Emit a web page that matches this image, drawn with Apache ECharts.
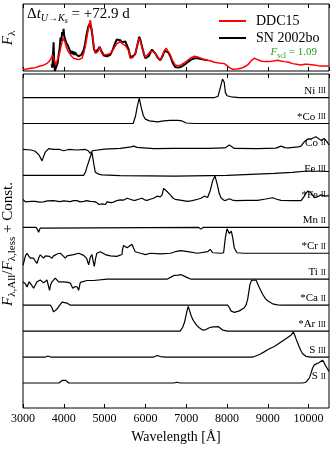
<!DOCTYPE html>
<html>
<head>
<meta charset="utf-8">
<script src="https://cdn.jsdelivr.net/npm/echarts@6/dist/echarts.min.js"></script>
<style>html,body{margin:0;padding:0;background:#fff}#chart{width:332px;height:450px}</style>
</head>
<body>
<div id="chart"></div>
<script>
// top panel: model vs observed flux, [wavelength, flux]
var ddc15 = [[3000,0.025],[3100,0.03],[3180,0.04],[3300,0.05],[3420,0.075],[3520,0.09],[3590,0.115],[3650,0.15],[3690,0.19],[3720,0.24],[3750,0.26],[3775,0.15],[3800,0.09],[3830,0.14],[3870,0.21],[3900,0.28],[3930,0.36],[3960,0.44],[3995,0.49],[4030,0.43],[4060,0.36],[4100,0.3],[4145,0.26],[4190,0.22],[4240,0.19],[4300,0.18],[4360,0.17],[4400,0.18],[4445,0.19],[4490,0.27],[4525,0.36],[4570,0.52],[4610,0.66],[4650,0.76],[4690,0.61],[4720,0.45],[4750,0.31],[4780,0.26],[4810,0.24],[4845,0.3],[4880,0.36],[4910,0.3],[4935,0.26],[4975,0.24],[5015,0.24],[5080,0.25],[5140,0.26],[5220,0.33],[5300,0.41],[5340,0.43],[5385,0.44],[5430,0.41],[5465,0.39],[5510,0.38],[5550,0.39],[5590,0.3],[5630,0.19],[5690,0.2],[5750,0.26],[5800,0.38],[5850,0.49],[5880,0.44],[5915,0.36],[5960,0.27],[6000,0.21],[6040,0.23],[6080,0.26],[6120,0.29],[6160,0.31],[6200,0.29],[6245,0.26],[6300,0.21],[6365,0.16],[6420,0.24],[6470,0.31],[6510,0.34],[6560,0.29],[6610,0.24],[6670,0.15],[6730,0.09],[6800,0.08],[6870,0.09],[6950,0.12],[7035,0.16],[7120,0.2],[7200,0.22],[7280,0.21],[7360,0.19],[7440,0.17],[7525,0.16],[7610,0.15],[7690,0.13],[7800,0.12],[7935,0.11],[8000,0.08],[8060,0.05],[8140,0.025],[8240,0.03],[8345,0.04],[8420,0.06],[8505,0.09],[8590,0.15],[8670,0.19],[8750,0.17],[8830,0.15],[8930,0.14],[9035,0.14],[9140,0.15],[9240,0.16],[9320,0.15],[9405,0.14],[9510,0.13],[9610,0.11],[9710,0.1],[9815,0.09],[9900,0.1],[9975,0.1],[10060,0.095],[10140,0.09],[10220,0.08],[10305,0.075],[10400,0.075],[10500,0.075]]
var sn2002bo = [[3700,0.10],[3720,0.05],[3740,0.30],[3750,0.43],[3760,0.2],[3780,0.0],[3800,0.02],[3820,0.0],[3850,0.12],[3870,0.22],[3900,0.35],[3920,0.50],[3940,0.45],[3960,0.58],[3980,0.55],[3995,0.63],[4010,0.52],[4030,0.48],[4060,0.42],[4080,0.44],[4100,0.38],[4120,0.40],[4140,0.32],[4160,0.30],[4180,0.26],[4200,0.30],[4220,0.25],[4240,0.29],[4260,0.24],[4280,0.28],[4300,0.25],[4330,0.27],[4360,0.22],[4400,0.21],[4430,0.24],[4460,0.22],[4490,0.32],[4520,0.40],[4560,0.55],[4600,0.66],[4630,0.70],[4650,0.72],[4680,0.62],[4710,0.48],[4740,0.33],[4770,0.28],[4810,0.28],[4850,0.33],[4880,0.36],[4910,0.31],[4940,0.28],[4980,0.23],[5015,0.21],[5060,0.22],[5100,0.22],[5140,0.24],[5200,0.32],[5260,0.42],[5300,0.47],[5340,0.45],[5385,0.46],[5420,0.43],[5465,0.42],[5510,0.44],[5550,0.44],[5590,0.32],[5630,0.21],[5690,0.22],[5750,0.25],[5800,0.38],[5850,0.51],[5880,0.46],[5915,0.37],[5960,0.26],[6000,0.19],[6040,0.2],[6080,0.22],[6120,0.27],[6160,0.32],[6200,0.3],[6245,0.26],[6300,0.2],[6365,0.16],[6420,0.22],[6470,0.3],[6510,0.32],[6560,0.28],[6610,0.22],[6670,0.12],[6730,0.06],[6800,0.05],[6870,0.06],[6950,0.09],[7035,0.13],[7120,0.17],[7200,0.19],[7280,0.19],[7360,0.18],[7440,0.17],[7520,0.16]]

// bottom panel: flux ratios, [wavelength, ratio - 1]
var niIII = [[3000,0],[7700,0],[7780,0.05],[7840,0.4],[7890,0.71],[7930,0.6],[7960,0.2],[8000,0.07],[8100,0.03],[8300,0],[10500,0]]
var coIII = [[3000,0],[5700,0],[5760,0.3],[5800,0.65],[5850,0.98],[5900,0.6],[5950,0.3],[6000,0.17],[6100,0.1],[6300,0.06],[6450,0.1],[6600,0.12],[6800,0.12],[6900,0.1],[7000,0.02],[7200,0],[10500,0]]
var coII = [[3000,0],[3200,-0.02],[3300,-0.07],[3400,-0.23],[3466,-0.44],[3546,-0.1],[3628,0.03],[3750,0],[3900,0],[3995,-0.05],[4120,0],[4323,-0.02],[4527,0],[4600,-0.05],[4650,-0.15],[4700,-0.05],[4730,0],[5000,0.01],[5385,0.04],[5650,0.1],[5711,0.13],[5795,0.08],[6200,0.03],[6710,0.04],[7525,0.04],[7950,0.06],[8057,0.17],[8180,0.04],[8750,0.03],[9200,0.05],[9323,0.13],[9420,0.07],[9500,0.06],[9750,0.1],[9815,0.13],[9895,0.3],[9977,0.4],[10080,0.42],[10180,0.49],[10305,0.35],[10385,0.42],[10450,0.3],[10500,0.17]]
var feIII = [[3000,0],[4486,0],[4530,0.12],[4568,0.33],[4650,0.72],[4691,0.89],[4732,0.47],[4772,0.12],[4855,0.05],[4935,0.02],[5385,-0.01],[6710,-0.03],[8000,0.0],[9160,0.08],[9600,0.12],[9977,0.17],[10500,0.15]]
var feII = [[3000,0.07],[3060,-0.02],[3098,-0.05],[3200,0.0],[3300,0.0],[3400,-0.03],[3500,-0.02],[3600,0.02],[3750,0.03],[3900,-0.01],[4000,0.02],[4160,-0.01],[4240,0.03],[4320,0.03],[4400,-0.02],[4490,0.0],[4560,0.03],[4650,0.0],[4750,-0.01],[4810,-0.05],[4860,-0.12],[4895,-0.18],[4940,-0.1],[4975,-0.08],[5020,-0.12],[5060,-0.02],[5100,0],[5160,-0.05],[5220,-0.03],[5300,0.03],[5385,0.06],[5470,0.05],[5550,0.12],[5590,0.08],[5630,0.08],[5690,0.05],[5750,0.04],[5830,0.08],[5917,0.12],[5980,0.06],[6040,0.04],[6120,0.08],[6200,0.12],[6285,0.2],[6365,0.17],[6410,0.25],[6447,0.5],[6490,0.45],[6530,0.38],[6610,0.25],[6680,0.12],[6730,0.08],[6850,0.05],[7035,0],[7150,0.03],[7280,0.08],[7360,0.12],[7444,0.2],[7525,0.15],[7590,0.42],[7648,0.79],[7705,0.98],[7770,0.6],[7810,0.3],[7853,0.14],[7935,0.03],[8000,0.06],[8057,0.1],[8130,0.05],[8220,0.03],[8500,0.04],[8750,0.04],[8950,0.09],[9118,0.14],[9220,0.08],[9323,0.04],[9600,0.03],[9815,0.03],[9895,0.2],[9940,0.32],[9977,0.4],[10020,0.38],[10060,0.33],[10140,0.14],[10220,0.18],[10305,0.25],[10400,0.2],[10500,0.22]]
var mnII = [[3000,0],[3320,0],[3360,-0.1],[3383,-0.19],[3420,-0.03],[3460,0],[7300,0],[7361,-0.07],[7420,0],[9280,0],[9323,-0.03],[9370,0],[10500,0]]
var crII = [[3000,-0.47],[3015,-0.47],[3060,-0.1],[3098,0],[3140,-0.1],[3180,-0.19],[3261,-0.19],[3300,-0.3],[3343,-0.39],[3380,-0.2],[3424,-0.06],[3470,-0.12],[3506,-0.19],[3550,-0.1],[3588,-0.06],[3650,-0.12],[3710,-0.19],[3750,-0.1],[3791,-0.06],[3850,-0.02],[3914,0],[3970,-0.08],[4037,-0.19],[4080,-0.1],[4118,-0.04],[4240,-0.05],[4363,0],[4486,-0.08],[4560,-0.2],[4609,-0.45],[4650,-0.15],[4690,-0.05],[4720,-0.3],[4747,-0.51],[4780,-0.2],[4810,0],[4895,0.06],[5015,-0.05],[5140,-0.1],[5300,-0.12],[5425,-0.05],[5440,0.15],[5465,0.3],[5510,0.25],[5550,0.21],[5610,0.28],[5670,0.35],[5710,0.2],[5750,0.06],[5880,0],[6000,-0.05],[6120,0],[6365,-0.02],[6610,0],[6730,0.06],[6870,0.1],[7035,0.06],[7280,0],[7525,0.06],[7590,0.15],[7650,0.02],[7853,0],[7917,0.02],[7960,0.6],[8000,0.94],[8030,0.85],[8055,0.76],[8080,0.82],[8105,0.85],[8140,0.6],[8180,0.2],[8245,0.02],[8400,0],[10500,0]]
var tiII = [[3000,-0.1],[3015,-0.1],[3060,-0.18],[3098,-0.3],[3150,-0.1],[3220,-0.25],[3261,-0.35],[3343,-0.1],[3424,-0.03],[3506,-0.14],[3588,-0.03],[3620,-0.1],[3650,-0.43],[3680,-0.2],[3710,-0.1],[3791,0.04],[3873,-0.1],[3996,-0.1],[4100,-0.12],[4160,-0.15],[4220,-0.35],[4280,-0.28],[4330,-0.3],[4363,-0.43],[4405,-0.12],[4568,-0.05],[4730,-0.05],[5060,0],[5630,0],[6530,0],[6650,0.1],[6710,0.15],[6800,0.16],[6870,0.18],[6950,0.12],[7000,0.08],[7120,0],[9200,0],[9240,0.04],[9300,0],[10500,0]]
var caII = [[3000,0],[3670,0],[3710,-0.1],[3750,-0.26],[3790,-0.2],[3833,-0.15],[3914,0.03],[3960,0.12],[3996,0.17],[4077,0.08],[4160,0],[8016,0],[8060,-0.1],[8098,-0.22],[8180,-0.28],[8303,-0.22],[8425,-0.1],[8470,0.02],[8507,0.23],[8564,0.81],[8600,0.95],[8630,1.0],[8710,0.97],[8792,0.68],[8874,0.42],[8940,0.25],[8996,0.17],[9118,0.05],[9240,0.01],[9350,0],[10500,0]]
var arIII = [[3000,0],[6850,0],[6914,0.15],[6960,0.35],[6996,0.61],[7030,0.85],[7052,0.95],[7080,0.8],[7120,0.6],[7160,0.45],[7200,0.35],[7260,0.22],[7320,0.13],[7402,0.04],[7450,0.02],[7484,0.06],[7530,0.12],[7566,0.13],[7610,0.18],[7648,0.16],[7690,0.14],[7730,0.16],[7790,0.17],[7812,0.14],[7893,0.04],[8016,0],[10500,0]]
var sIII = [[3000,0],[3550,0],[3610,0.04],[3680,0],[6200,0],[6290,0.06],[6370,0.02],[6500,0],[8600,0],[8670,0.02],[8750,0.07],[8830,0.13],[8910,0.2],[8996,0.28],[9080,0.35],[9160,0.41],[9240,0.49],[9323,0.58],[9400,0.66],[9486,0.75],[9530,0.79],[9568,0.84],[9600,0.9],[9625,0.97],[9660,0.85],[9690,0.71],[9730,0.55],[9772,0.39],[9810,0.25],[9854,0.13],[9935,0.03],[10060,0],[10500,0]]
var sII = [[3000,0],[3880,0],[3914,0.03],[3960,0.1],[3996,0.13],[4050,0.1],[4090,0.03],[4120,0],[6700,0],[6775,0.03],[6850,0],[9854,0],[9935,0.03],[9980,0.1],[10017,0.19],[10060,0.38],[10098,0.58],[10140,0.7],[10180,0.77],[10262,0.79],[10300,0.82],[10343,0.88],[10375,0.8],[10400,0.71],[10450,0.58],[10500,0.45]]

var ionCurves = [niIII, coIII, coII, feIII, feII, mnII, crII, tiII, caII, arIII, sIII, sII]
var ionNames = [['Ni', 'III'], ['*Co', 'III'], ['Co', 'II'], ['Fe', 'III'], ['*Fe', 'II'], ['Mn', 'II'], ['*Cr', 'II'], ['Ti', 'II'], ['*Ca', 'II'], ['*Ar', 'III'], ['S', 'III'], ['S', 'II']]
var offsets = [12, 11, 10, 9, 8, 7, 6, 5, 4, 3, 2, 1]

var serif = 'Liberation Serif'
var chart = echarts.init(document.getElementById('chart'))

// little math-text builder: pieces laid out left to right on a shared baseline
// piece = [text, fontSize, italic, baseline shift]
var ctx = document.createElement('canvas').getContext('2d')
function mathText(pieces, x, y, align, rotation, color) {
    var kids = [], w = 0
    pieces.forEach(function (p) {
        var style = p[2] ? 'italic' : 'normal'
        ctx.font = style + ' ' + p[1] + 'px "' + serif + '"'
        kids.push({
            type: 'text', x: w, y: (p[3] || 0) - 0.34 * p[1],
            style: { text: p[0], fontFamily: serif, fontSize: p[1], fontStyle: style, fill: color || '#000', align: 'left', verticalAlign: 'middle' }
        })
        w += ctx.measureText(p[0]).width
    })
    var shift = align === 'right' ? -w : align === 'center' ? -w / 2 : 0
    kids.forEach(function (k) { k.x += shift })
    return { type: 'group', x: x, y: y, rotation: rotation || 0, children: kids }
}

var xTicks = function (grid, pos, show) {
    return {
        type: 'value', gridIndex: grid, position: pos, min: 3000, max: 10500, interval: 1000,
        axisLine: { show: false },
        axisTick: { show: true, inside: true, length: 4, lineStyle: { color: '#000', width: 1 } },
        axisLabel: { show: show, color: '#000', fontFamily: serif, fontSize: 12, margin: 5, showMaxLabel: false, formatter: function (v) { return String(v) } },
        splitLine: { show: false }
    }
}
var xBottom = xTicks(1, 'bottom', true)
xBottom.name = 'Wavelength [Å]'
xBottom.nameLocation = 'middle'
xBottom.nameGap = 22
xBottom.nameTextStyle = { fontFamily: serif, fontSize: 14, color: '#000' }

var series = [
    {
        name: 'SN 2002bo', type: 'line', xAxisIndex: 0, yAxisIndex: 0, data: sn2002bo,
        symbol: 'none', lineStyle: { color: '#000', width: 2 }, itemStyle: { color: '#000' }, z: 2
    },
    {
        name: 'DDC15', type: 'line', xAxisIndex: 0, yAxisIndex: 0, data: ddc15,
        symbol: 'none', lineStyle: { color: '#ff0000', width: 1.5 }, itemStyle: { color: '#ff0000' }, z: 3
    }
]
ionCurves.forEach(function (c, k) {
    series.push({
        type: 'line', xAxisIndex: 2, yAxisIndex: 1, symbol: 'none',
        data: c.map(function (p) { return [p[0], offsets[k] + p[1]] }),
        lineStyle: { color: '#000', width: 1.2 }
    })
})

var noY = { axisLine: { show: false }, axisTick: { show: false }, axisLabel: { show: false }, splitLine: { show: false } }
var option = {
    animation: false,
    grid: [
        { left: 23, top: 4, width: 306, height: 67, show: true, borderColor: '#000', borderWidth: 1 },
        { left: 23, top: 74, width: 306, height: 334, show: true, borderColor: '#000', borderWidth: 1 }
    ],
    xAxis: [xTicks(0, 'bottom', false), xTicks(0, 'top', false), xBottom, xTicks(1, 'top', false)],
    yAxis: [
        Object.assign({ type: 'value', gridIndex: 0, min: 0, max: 1 }, noY),
        Object.assign({ type: 'value', gridIndex: 1, min: 0.037, max: 12.908 }, noY)
    ],
    legend: {
        data: ['DDC15', 'SN 2002bo'], orient: 'vertical', left: 219, top: 13, padding: 0,
        icon: 'rect', itemWidth: 27, itemHeight: 2, itemGap: 1,
        textStyle: { fontFamily: serif, fontSize: 14, lineHeight: 16, color: '#000', padding: [0, 0, 0, 5] }
    },
    series: series
}
chart.setOption(option)

// annotations
var rot = Math.PI / 2
var graphics = [
    mathText([['Δ', 15], ['t', 15, true], ['U→K', 10, true, 3], ['s', 8, true, 5], [' = +72.9 d', 15]], 27, 19, 'left'),
    mathText([['F', 11, true], ['scl', 8, false, 2.5], [' = 1.09', 11]], 317, 56, 'right', 0, '#2ca02c'),
    mathText([['F', 15, true], ['λ', 11, false, 3]], 13, 38, 'center', rot),
    mathText([['F', 15, true], ['λ,All', 11, false, 3], ['/', 15], ['F', 15, true], ['λ,less', 11, false, 3], [' + Const.', 15]], 13, 244, 'center', rot)
]
ionNames.forEach(function (n, k) {
    var p = chart.convertToPixel({ gridIndex: 1 }, [10500, offsets[k]])
    graphics.push(mathText([[n[0] + ' ', 11], [n[1], 8, false, -0.5]], 326, p[1] - 3, 'right'))
})
chart.setOption({ graphic: graphics })
</script>
</body>
</html>
